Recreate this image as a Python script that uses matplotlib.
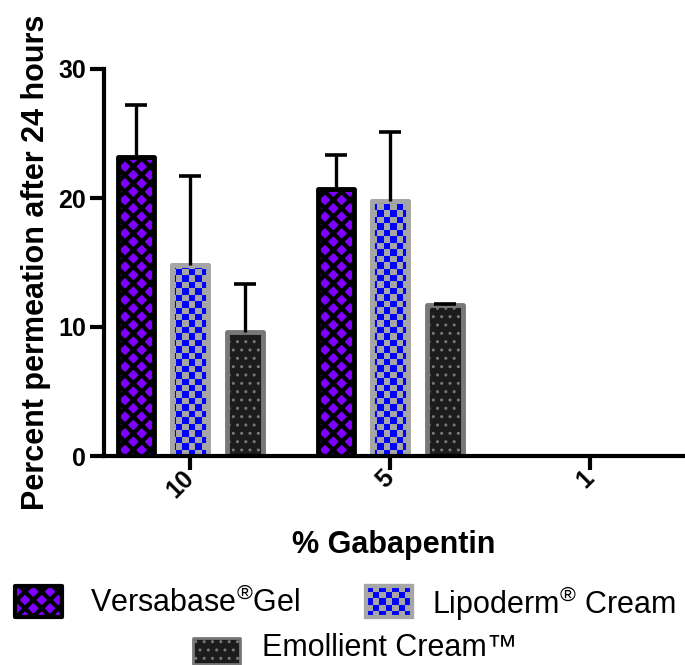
import numpy as np
import matplotlib
matplotlib.use('Agg')
import matplotlib.pyplot as plt
from matplotlib.patches import Rectangle

# ---- data ----
groups = ['10', '5', '1']
series_names = ['Versabase$^{\\circledR}$Gel', 'Lipoderm$^{\\circledR}$ Cream', 'Emollient Cream\u2122']
versabase = [23.2, 20.7, 0.0]
versabase_err = [4.0, 2.6, 0.0]
lipoderm = [14.8, 19.8, 0.0]
lipoderm_err = [6.9, 5.3, 0.0]
emollient = [9.6, 11.7, 0.0]
emollient_err = [3.7, 0.1, 0.0]
yticks = [0, 10, 20, 30]

plt.rcParams['font.family'] = ['Liberation Sans', 'DejaVu Sans']
plt.rcParams['mathtext.fontset'] = 'custom'
plt.rcParams['mathtext.rm'] = 'Liberation Sans'
plt.rcParams['mathtext.it'] = 'Liberation Sans:italic'
plt.rcParams['mathtext.bf'] = 'Liberation Sans:bold'

PURPLE = '#7f00ff'
BLUE = '#0000ff'
LGRAY = '#a6a6a6'
DGRAY = '#787878'
DARK = '#1c1c1c'

FW, FH = 685, 665
fig = plt.figure(figsize=(FW / 100, FH / 100), dpi=100)
ax = fig.add_axes([104 / FW, 209 / FH, 579 / FW, 387 / FH])

x = np.arange(len(groups))
offsets = [-0.27, 0.0, 0.275]
width = 0.18
VHATCH = 'xx'
VHLW = 3.0


def set_hlw(patches, hlw):
    for p in patches:
        p.set_joinstyle('round')
        if hasattr(p, 'set_hatch_linewidth'):
            p.set_hatch_linewidth(hlw)


with plt.rc_context({'hatch.linewidth': VHLW}):
    b1 = ax.bar(x + offsets[0], versabase, width, color=PURPLE, edgecolor='black',
                linewidth=3.5, hatch=VHATCH, zorder=2)
set_hlw(b1, VHLW)

b2 = ax.bar(x + offsets[1], lipoderm, width, color=LGRAY, edgecolor=LGRAY,
            linewidth=3.5, zorder=2)
set_hlw(b2, 1.0)


def checker(cell, wpx, hpx):
    nx = max(1, int(round(wpx / cell)))
    ny = max(1, int(round(hpx / cell)))
    arr = np.zeros((ny, nx, 4))
    ii, jj = np.indices((ny, nx))
    m = (ii + jj) % 2 == 0
    arr[m] = [0, 0, 1, 1]
    return arr


chk = checker(6.5, 579, 387)
for p in b2:
    im = ax.imshow(chk, extent=[0, 1, 0, 1], transform=ax.transAxes,
                   interpolation='nearest', aspect='auto', zorder=2.1)
    im.set_clip_path(p)
b2e = ax.bar(x + offsets[1], lipoderm, width, facecolor='none', edgecolor=LGRAY,
             linewidth=3.5, zorder=2.2)
set_hlw(b2e, 1.0)

with plt.rc_context({'hatch.linewidth': 1.0}):
    b3 = ax.bar(x + offsets[2], emollient, width, color=DARK, edgecolor=DGRAY,
                linewidth=3.5, hatch='..', zorder=2)
set_hlw(b3, 1.0)

for vals, errs, off in [(versabase, versabase_err, offsets[0]),
                        (lipoderm, lipoderm_err, offsets[1]),
                        (emollient, emollient_err, offsets[2])]:
    eb = ax.errorbar(x + off, vals, yerr=[np.zeros(len(errs)), errs], fmt='none',
                     ecolor='black', elinewidth=2.4, capsize=8, capthick=2.6, zorder=3)
    eb[1][0].set_visible(False)

ax.set_xlim(-0.43, 2.465)
ax.set_ylim(0, 30)
ax.set_yticks(yticks)
ax.set_xticks(x)
ax.set_xticklabels(groups, rotation=45, ha='right', va='center', rotation_mode='anchor')
for s in ['top', 'right']:
    ax.spines[s].set_visible(False)
for s in ['left', 'bottom']:
    ax.spines[s].set_linewidth(3)
ax.tick_params(width=3, length=10, labelsize=18, pad=3)
for lab in ax.get_xticklabels() + ax.get_yticklabels():
    lab.set_fontweight('bold')
ax.set_ylabel('Percent permeation after 24 hours', fontsize=22, fontweight='bold')
ax.yaxis.set_label_coords(-0.092, 0.5)
ax.set_xlabel('% Gabapentin', fontsize=22, fontweight='bold')
ax.xaxis.set_label_coords(0.5, -0.19)

# ---- legend (manual, figure pixel coordinates) ----
lax = fig.add_axes([0, 0, 1, 1], zorder=-1)
with plt.rc_context({'hatch.linewidth': VHLW}):
    r1 = Rectangle((15, 586), 47, 31, facecolor=PURPLE, edgecolor='black',
                   linewidth=3, hatch=VHATCH)
lax.add_patch(r1)
set_hlw([r1], VHLW)
r2 = Rectangle((366, 586), 46, 31, facecolor=LGRAY, edgecolor=LGRAY, linewidth=3)
lax.add_patch(r2)
imL = lax.imshow(checker(1, 7, 5), extent=[366, 412, 586, 617], interpolation='nearest',
                 aspect='auto', zorder=2)
imL.set_clip_path(r2)
r2e = Rectangle((366, 586), 46, 31, facecolor='none', edgecolor=LGRAY, linewidth=3, zorder=3)
lax.add_patch(r2e)
with plt.rc_context({'hatch.linewidth': 1.0}):
    r3 = Rectangle((193, 638), 47, 26, facecolor=DARK, edgecolor=DGRAY,
                   linewidth=2, hatch='..')
lax.add_patch(r3)
set_hlw([r3], 1.0)
lax.text(90, 603, series_names[0], fontsize=22, va='center', ha='left')
lax.text(432, 603, series_names[1], fontsize=22, va='center', ha='left')
lax.text(262, 648, series_names[2], fontsize=22, va='center', ha='left')
lax.set_xlim(0, FW)
lax.set_ylim(FH, 0)
lax.axis('off')

fig.savefig('out.png', dpi=100)
